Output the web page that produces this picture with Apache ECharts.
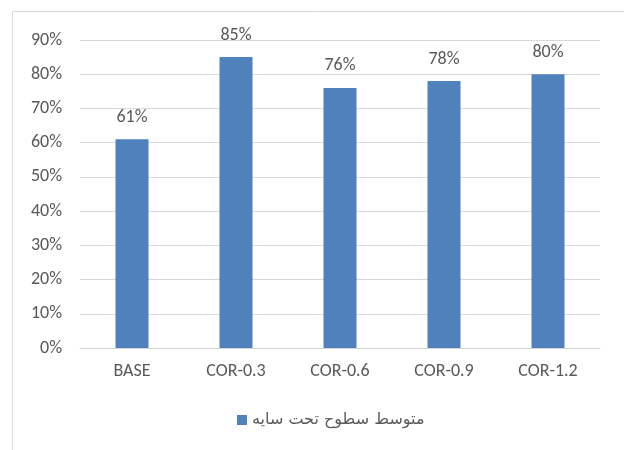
<!DOCTYPE html>
<html>
<head>
<meta charset="utf-8">
<script src="https://cdn.jsdelivr.net/npm/echarts@6/dist/echarts.min.js"></script>
<style>html,body{margin:0;padding:0;background:#fff}#c{width:624px;height:450px}</style>
</head>
<body>
<div id="c"></div>
<script>
const categories = ['BASE', 'COR-0.3', 'COR-0.6', 'COR-0.9', 'COR-1.2'];
const values = [61, 85, 76, 78, 80];
const seriesName = 'متوسط سطوح تحت سایه';
const yTicks = [0, 10, 20, 30, 40, 50, 60, 70, 80, 90];

const chart = echarts.init(document.getElementById('c'), null, {renderer: 'canvas'});
chart.setOption({
  animation: false,
  backgroundColor: '#fff',
  textStyle: {fontFamily: 'Carlito, Calibri, "Liberation Sans", "DejaVu Sans", sans-serif'},
  graphic: [{
    type: 'rect', shape: {x: 12.5, y: 11.5, width: 640, height: 460},
    style: {fill: 'none', stroke: '#d9d9d9', lineWidth: 1}, silent: true, z: -10
  }],
  grid: {left: 80, right: 24, top: 40, bottom: 102},
  legend: {
    bottom: 17, left: 232, itemWidth: 10, itemHeight: 10, itemGap: 6,
    icon: 'rect',
    textStyle: {color: '#595959', fontSize: 16, fontFamily: '"DejaVu Sans", "Noto Sans", sans-serif'},
    data: [seriesName]
  },
  xAxis: {
    type: 'category', data: categories,
    axisLine: {lineStyle: {color: '#d9d9d9'}},
    axisTick: {show: false},
    axisLabel: {color: '#595959', fontSize: 18, margin: 14}
  },
  yAxis: {
    type: 'value', min: yTicks[0], max: yTicks[yTicks.length - 1], interval: 10,
    axisLine: {show: false}, axisTick: {show: false},
    splitLine: {lineStyle: {color: '#d9d9d9'}},
    axisLabel: {color: '#595959', fontSize: 18, margin: 18, formatter: v => v + '%'}
  },
  series: [{
    name: seriesName, type: 'bar', data: values, barWidth: 33,
    itemStyle: {color: '#4F81BD'},
    label: {show: true, position: 'top', distance: 13, color: '#595959', fontSize: 18, formatter: p => p.value + '%'}
  }]
});
</script>
</body>
</html>
